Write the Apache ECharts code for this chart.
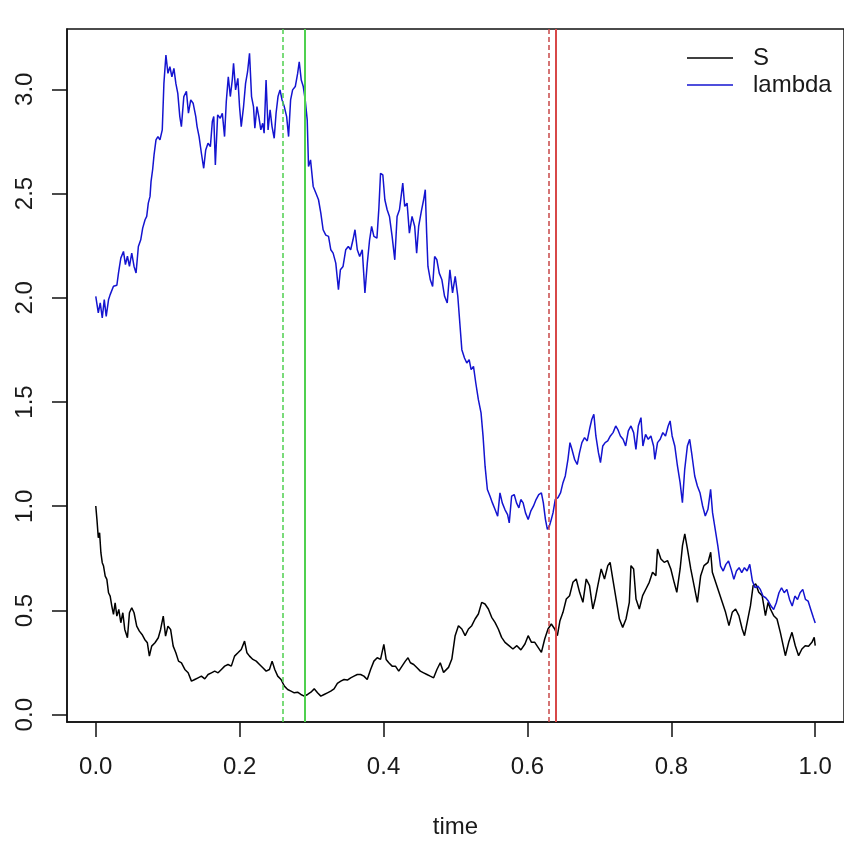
<!DOCTYPE html>
<html>
<head>
<meta charset="utf-8">
<script src="https://cdn.jsdelivr.net/npm/echarts@6/dist/echarts.min.js"></script>
<style>
  html, body { margin: 0; padding: 0; background: #fff; }
  #main { width: 844px; height: 844px; }
</style>
</head>
<body>
<div id="main"></div>
<script>
// tick positions
var xTicks = [0, 0.2, 0.4, 0.6, 0.8, 1.0];
var yTicks = [0, 0.5, 1.0, 1.5, 2.0, 2.5, 3.0];

// change points (vertical lines): estimated, true
var greenTimes = [0.2607, 0.291];
var redTimes = [0.6263, 0.6355];

// lambda path (blue)
var lambdaTime = [
  0.000, 0.0035, 0.0062, 0.009, 0.0118, 0.0145, 0.0177, 0.020, 0.0246, 0.0293,
  0.0316, 0.0348, 0.0385, 0.0412, 0.044, 0.0468, 0.050, 0.0532, 0.056, 0.0592,
  0.0625, 0.0652, 0.0685, 0.0708, 0.073, 0.0754, 0.0768, 0.079, 0.081, 0.0837,
  0.0864, 0.0892, 0.0924, 0.0947, 0.0975, 0.1003, 0.103, 0.1058, 0.1086, 0.1113,
  0.114, 0.1168, 0.119, 0.1224, 0.126, 0.1288, 0.132, 0.1353, 0.139, 0.1408,
  0.1436, 0.1468, 0.150, 0.1528, 0.156, 0.1593, 0.162, 0.164, 0.1662, 0.1694,
  0.173, 0.1759, 0.179, 0.1814, 0.1842, 0.187, 0.1897, 0.1915, 0.1943, 0.1975,
  0.1998, 0.2022, 0.2054, 0.2082, 0.211, 0.2137, 0.2165, 0.2192, 0.2211, 0.224,
  0.2266, 0.2294, 0.232, 0.234, 0.2367, 0.2395, 0.2423, 0.245, 0.248, 0.2506,
  0.2533, 0.2561, 0.2589, 0.262, 0.2653, 0.268, 0.2708, 0.2736, 0.2773, 0.2806,
  0.2828, 0.2856, 0.2884, 0.2911, 0.2939, 0.2957, 0.2985, 0.3022, 0.3059, 0.3096,
  0.3128, 0.316, 0.3197, 0.3235, 0.3267, 0.3299, 0.3336, 0.3373, 0.34, 0.3437,
  0.3474, 0.351, 0.3543, 0.3575, 0.3603, 0.3635, 0.3668, 0.3704, 0.3741, 0.3774,
  0.3806, 0.3834, 0.3866, 0.3908, 0.3935, 0.3958, 0.399, 0.4018, 0.405, 0.4082,
  0.4119, 0.4156, 0.4188, 0.4221, 0.4267, 0.4294, 0.4327, 0.4359, 0.4396, 0.4433,
  0.446, 0.4488, 0.4525, 0.4557, 0.458, 0.4599, 0.4617, 0.465, 0.4682, 0.471,
  0.4741, 0.4774, 0.4811, 0.4848, 0.4885, 0.4922, 0.4959, 0.4996, 0.5032, 0.506,
  0.5088, 0.5125, 0.5157, 0.519, 0.5217, 0.525, 0.5282, 0.5318, 0.5355, 0.5383,
  0.5411, 0.5443, 0.548, 0.5513, 0.555, 0.5586, 0.5618, 0.565, 0.5687, 0.5724,
  0.5747, 0.578, 0.5816, 0.5848, 0.5881, 0.5908, 0.594, 0.5973, 0.601, 0.6046,
  0.6083, 0.612, 0.6157, 0.6194, 0.6221, 0.625, 0.6277, 0.6305, 0.6332, 0.6356,
  0.6387, 0.6425, 0.6461, 0.6494, 0.6526, 0.6563, 0.6591, 0.6618, 0.6655, 0.6692,
  0.6724, 0.6757, 0.6794, 0.6831, 0.6863, 0.6895, 0.6923, 0.6951, 0.6987, 0.7015,
  0.7047, 0.708, 0.7116, 0.7153, 0.719, 0.7227, 0.7255, 0.7292, 0.7329, 0.7365,
  0.7402, 0.7439, 0.7476, 0.7508, 0.7541, 0.7578, 0.7605, 0.7642, 0.7679, 0.7716,
  0.7753, 0.7771, 0.7808, 0.7845, 0.7882, 0.7919, 0.7956, 0.7983, 0.8011, 0.8048,
  0.8085, 0.8122, 0.8154, 0.8186, 0.8223, 0.8255, 0.8288, 0.8325, 0.8362, 0.8398,
  0.8435, 0.8472, 0.8509, 0.8546, 0.8573, 0.861, 0.8647, 0.8684, 0.8721, 0.8758,
  0.8795, 0.8832, 0.8869, 0.8905, 0.8942, 0.8979, 0.9016, 0.9053, 0.909, 0.9127,
  0.9164, 0.92, 0.9237, 0.9274, 0.9311, 0.9348, 0.9385, 0.9422, 0.9459, 0.9496,
  0.9532, 0.9569, 0.9606, 0.9643, 0.968, 0.9717, 0.9754, 0.979, 0.9827, 0.9864,
  0.9901, 0.9938, 0.9975, 1.0
];
var lambdaVals = [
  2.007, 1.927, 1.975, 1.903, 1.991, 1.911, 1.99, 2.015, 2.055, 2.06,
  2.119, 2.19, 2.222, 2.159, 2.199, 2.15, 2.214, 2.15, 2.119, 2.246,
  2.278, 2.334, 2.374, 2.39, 2.454, 2.486, 2.557, 2.614, 2.685, 2.757,
  2.773, 2.757, 2.805, 3.028, 3.164, 3.076, 3.108, 3.06, 3.10, 3.028,
  2.98, 2.869, 2.821, 2.965, 2.99, 2.885, 2.949, 2.933, 2.869, 2.821,
  2.773, 2.693, 2.621, 2.709, 2.741, 2.725, 2.845, 2.869, 2.637, 2.877,
  2.861, 2.885, 2.773, 2.941, 3.06, 2.965, 3.044, 3.124, 2.997, 3.052,
  2.917, 2.821, 2.917, 3.028, 3.084, 3.172, 2.965, 2.917, 2.813, 2.917,
  2.869, 2.805, 2.837, 2.789, 3.044, 2.805, 2.901, 2.821, 2.765, 2.885,
  2.965, 2.997, 2.949, 2.917, 2.869, 2.773, 2.949, 2.997, 3.013, 3.076,
  3.132, 3.044, 3.013, 2.949, 2.853, 2.629, 2.661, 2.534, 2.502, 2.47,
  2.406, 2.326, 2.30, 2.294, 2.23, 2.214, 2.166, 2.039, 2.134, 2.15,
  2.23, 2.246, 2.23, 2.278, 2.326, 2.23, 2.198, 2.23, 2.023, 2.166,
  2.278, 2.342, 2.294, 2.286, 2.43, 2.597, 2.589, 2.47, 2.422, 2.39,
  2.294, 2.182, 2.39, 2.422, 2.55, 2.438, 2.454, 2.31, 2.39, 2.342,
  2.214, 2.342, 2.414, 2.47, 2.518, 2.31, 2.15, 2.086, 2.054, 2.198,
  2.182, 2.118, 2.086, 2.007, 1.975, 2.134, 2.023, 2.102, 2.007, 1.879,
  1.751, 1.711, 1.687, 1.703, 1.655, 1.671, 1.591, 1.511, 1.448, 1.336,
  1.192, 1.08, 1.048, 1.016, 0.984, 0.952, 1.064, 1.016, 0.984, 0.96,
  0.92, 1.048, 1.056, 1.016, 0.992, 1.032, 1.016, 0.968, 0.936, 0.976,
  1.0, 1.032, 1.056, 1.064, 1.016, 0.937, 0.889, 0.905, 0.937, 0.969,
  1.033, 1.041, 1.065, 1.113, 1.145, 1.225, 1.305, 1.273, 1.225, 1.2,
  1.257, 1.305, 1.329, 1.313, 1.369, 1.417, 1.441, 1.337, 1.257, 1.209,
  1.289, 1.305, 1.313, 1.337, 1.353, 1.385, 1.369, 1.337, 1.321, 1.289,
  1.361, 1.385, 1.353, 1.273, 1.385, 1.425, 1.289, 1.345, 1.321, 1.337,
  1.289, 1.225, 1.305, 1.321, 1.353, 1.337, 1.385, 1.409, 1.337, 1.289,
  1.193, 1.113, 1.017, 1.177, 1.289, 1.321, 1.241, 1.145, 1.097, 1.065,
  1.001, 0.953, 0.985, 1.081, 0.969, 0.889, 0.809, 0.713, 0.689, 0.721,
  0.737, 0.697, 0.649, 0.689, 0.705, 0.681, 0.705, 0.689, 0.721, 0.641,
  0.609, 0.617, 0.601, 0.569, 0.561, 0.545, 0.521, 0.505, 0.537, 0.585,
  0.609, 0.585, 0.601, 0.553, 0.521, 0.569, 0.553, 0.585, 0.601, 0.553,
  0.545, 0.505, 0.465, 0.44
];

// S path (black)
var sTime = [
  0.000, 0.0016, 0.0035, 0.0053, 0.0071, 0.009, 0.0108, 0.0131, 0.0154, 0.0177,
  0.020, 0.0223, 0.0246, 0.0269, 0.0293, 0.032, 0.0348, 0.0376, 0.0403, 0.044,
  0.0468, 0.050, 0.0532, 0.0569, 0.0606, 0.0643, 0.068, 0.0717, 0.0745, 0.0777,
  0.0823, 0.0869, 0.0901, 0.0938, 0.097, 0.1003, 0.104, 0.1076, 0.1113, 0.115,
  0.1191, 0.1238, 0.1284, 0.133, 0.1376, 0.1422, 0.1468, 0.1515, 0.1561, 0.1607,
  0.1653, 0.170, 0.1746, 0.1792, 0.1838, 0.1884, 0.1929, 0.1976, 0.2022, 0.2068,
  0.2101, 0.2137, 0.2184, 0.223, 0.2276, 0.2322, 0.2368, 0.2414, 0.2451, 0.2488,
  0.2529, 0.2575, 0.2621, 0.2667, 0.2713, 0.2759, 0.2805, 0.2851, 0.2898, 0.2944,
  0.299, 0.3036, 0.3082, 0.3128, 0.3174, 0.322, 0.3266, 0.3312, 0.3358, 0.3405,
  0.3451, 0.3497, 0.3543, 0.3589, 0.3635, 0.3681, 0.3727, 0.3773, 0.382, 0.3866,
  0.3912, 0.3958, 0.4004, 0.4036, 0.4073, 0.4119, 0.4165, 0.4211, 0.4257, 0.4303,
  0.434, 0.4373, 0.4419, 0.4465, 0.4511, 0.4557, 0.4603, 0.4649, 0.4696, 0.4742,
  0.4788, 0.4834, 0.4903, 0.4949, 0.4995, 0.5041, 0.5088, 0.5134, 0.518, 0.5226,
  0.5272, 0.5318, 0.5364, 0.541, 0.5457, 0.5503, 0.5549, 0.5595, 0.5641, 0.5688,
  0.5743, 0.5798, 0.5853, 0.5909, 0.5965, 0.601, 0.6056, 0.6102, 0.6148, 0.6194,
  0.624, 0.6286, 0.6332, 0.6379, 0.6416, 0.6452, 0.6494, 0.654, 0.6586, 0.6632,
  0.6678, 0.6725, 0.6771, 0.6817, 0.6863, 0.6909, 0.6942, 0.6978, 0.7025, 0.7071,
  0.7117, 0.7149, 0.7186, 0.7232, 0.7278, 0.7324, 0.737, 0.7416, 0.7439, 0.7476,
  0.7509, 0.7555, 0.7601, 0.7647, 0.7693, 0.7739, 0.7785, 0.7808, 0.7855, 0.7901,
  0.7947, 0.7993, 0.8039, 0.8076, 0.8122, 0.8155, 0.8187, 0.8224, 0.827, 0.8316,
  0.8362, 0.8408, 0.8454, 0.851, 0.8547, 0.857, 0.8616, 0.8662, 0.8708, 0.8754,
  0.8801, 0.8847, 0.8893, 0.8939, 0.8985, 0.9017, 0.9054, 0.910, 0.9137, 0.9174,
  0.9215, 0.9262, 0.9308, 0.9345, 0.9377, 0.9423, 0.9469, 0.9515, 0.9585, 0.9631,
  0.9677, 0.9723, 0.9769, 0.9815, 0.9861, 0.9907, 0.9954, 0.9986, 1.0
];
var sVals = [
  1.001, 0.937, 0.849, 0.873, 0.777, 0.729, 0.713, 0.665, 0.649, 0.585,
  0.569, 0.521, 0.481, 0.537, 0.473, 0.505, 0.441, 0.489, 0.409, 0.369,
  0.489, 0.513, 0.489, 0.425, 0.401, 0.385, 0.361, 0.345, 0.281, 0.329,
  0.345, 0.369, 0.409, 0.473, 0.377, 0.425, 0.409, 0.329, 0.297, 0.257,
  0.249, 0.217, 0.201, 0.161, 0.169, 0.177, 0.185, 0.172, 0.193, 0.201,
  0.209, 0.201, 0.217, 0.233, 0.241, 0.233, 0.281, 0.297, 0.313, 0.353,
  0.297, 0.281, 0.265, 0.257, 0.241, 0.225, 0.209, 0.217, 0.257, 0.217,
  0.185, 0.169, 0.137, 0.121, 0.113, 0.105, 0.108, 0.097, 0.089, 0.097,
  0.108, 0.124, 0.105, 0.089, 0.097, 0.105, 0.113, 0.124, 0.15, 0.161,
  0.169, 0.166, 0.177, 0.185, 0.193, 0.193, 0.185, 0.169, 0.217, 0.257,
  0.273, 0.265, 0.337, 0.265, 0.249, 0.233, 0.233, 0.209, 0.233, 0.257,
  0.273, 0.249, 0.241, 0.225, 0.209, 0.201, 0.193, 0.185, 0.177, 0.217,
  0.249, 0.203, 0.227, 0.267, 0.379, 0.427, 0.411, 0.379, 0.411, 0.427,
  0.459, 0.483, 0.539, 0.531, 0.507, 0.467, 0.443, 0.411, 0.371, 0.347,
  0.331, 0.315, 0.331, 0.311, 0.339, 0.379, 0.347, 0.347, 0.323, 0.299,
  0.363, 0.411, 0.435, 0.411, 0.379, 0.451, 0.491, 0.555, 0.571, 0.635,
  0.651, 0.587, 0.539, 0.651, 0.619, 0.507, 0.555, 0.619, 0.699, 0.651,
  0.715, 0.731, 0.651, 0.555, 0.459, 0.419, 0.459, 0.539, 0.715, 0.699,
  0.555, 0.507, 0.571, 0.603, 0.635, 0.683, 0.667, 0.795, 0.747, 0.731,
  0.739, 0.699, 0.635, 0.587, 0.699, 0.811, 0.867, 0.795, 0.699, 0.619,
  0.539, 0.667, 0.715, 0.731, 0.779, 0.683, 0.635, 0.587, 0.539, 0.491,
  0.427, 0.491, 0.507, 0.475, 0.411, 0.379, 0.443, 0.523, 0.619, 0.627,
  0.587, 0.571, 0.475, 0.539, 0.507, 0.475, 0.459, 0.395, 0.283, 0.347,
  0.395, 0.331, 0.283, 0.315, 0.331, 0.328, 0.347, 0.371, 0.331
];

var dom = document.getElementById("main");
var myChart = echarts.init(dom, null, { renderer: 'canvas' });

var font = 'Liberation Sans, Arial, sans-serif';
var ink = '#1a1a1a';

function pairs(ts, vs) {
    return ts.map(function (t, i) { return [t, vs[i]]; });
}

// vertical lines for the change points
var vLines = [
    { xAxis: greenTimes[0], lineStyle: { color: '#4fd04f', type: [5, 3], width: 1.5 } },
    { xAxis: greenTimes[1], lineStyle: { color: '#4fd04f', type: 'solid', width: 2 } },
    { xAxis: redTimes[0], lineStyle: { color: '#c84848', type: [5, 3], width: 1.5 } },
    { xAxis: redTimes[1], lineStyle: { color: '#d84848', type: 'solid', width: 2 } }
];

option = {
    animation: false,
    backgroundColor: '#fff',
    textStyle: { fontFamily: font },
    grid: {
        show: true,
        left: 67,
        top: 29,
        width: 781, // right side runs off the picture
        height: 694,
        borderColor: '#111',
        borderWidth: 1.5,
        backgroundColor: 'transparent'
    },
    legend: {
        orient: 'vertical',
        left: 687,
        top: 46,
        padding: 0,
        icon: 'rect',
        itemWidth: 46,
        itemHeight: 1.5,
        itemGap: 3,
        textStyle: { fontSize: 24, color: ink, lineHeight: 24, padding: [0, 0, 0, 15] },
        data: ['S', 'lambda']
    },
    xAxis: {
        type: 'value',
        min: -0.04,
        max: 1.04,
        name: 'time',
        nameLocation: 'middle',
        nameGap: 93,
        nameTextStyle: { fontSize: 24, color: ink },
        axisLine: { show: true, onZero: false, lineStyle: { color: '#111', width: 1.5 } },
        splitLine: { show: false },
        axisTick: {
            show: true,
            inside: false,
            customValues: xTicks,
            length: 15,
            lineStyle: { color: '#111', width: 1.5 }
        },
        axisLabel: {
            customValues: xTicks,
            fontSize: 24,
            color: ink,
            margin: 33,
            formatter: function (v) { return v.toFixed(1); }
        }
    },
    yAxis: {
        type: 'value',
        min: -0.035,
        max: 3.289,
        axisLine: { show: true, onZero: false, lineStyle: { color: '#111', width: 1.5 } },
        splitLine: { show: false },
        axisTick: {
            show: true,
            inside: false,
            customValues: yTicks,
            length: 15,
            lineStyle: { color: '#111', width: 1.5 }
        },
        axisLabel: {
            customValues: yTicks,
            fontSize: 24,
            color: ink,
            rotate: 90,
            margin: 30,
            formatter: function (v) { return v.toFixed(1); }
        }
    },
    series: [
        {
            name: 'S',
            type: 'line',
            symbol: 'none',
            color: '#000',
            lineStyle: { width: 1.5, color: '#000' },
            data: pairs(sTime, sVals)
        },
        {
            name: 'lambda',
            type: 'line',
            symbol: 'none',
            color: '#1414d0',
            lineStyle: { width: 1.5, color: '#1414d0' },
            data: pairs(lambdaTime, lambdaVals),
            markLine: {
                silent: true,
                symbol: ['none', 'none'],
                label: { show: false },
                data: vLines
            }
        }
    ]
};

if (option && typeof option === "object") {
    myChart.setOption(option, true);
}
</script>
</body>
</html>
